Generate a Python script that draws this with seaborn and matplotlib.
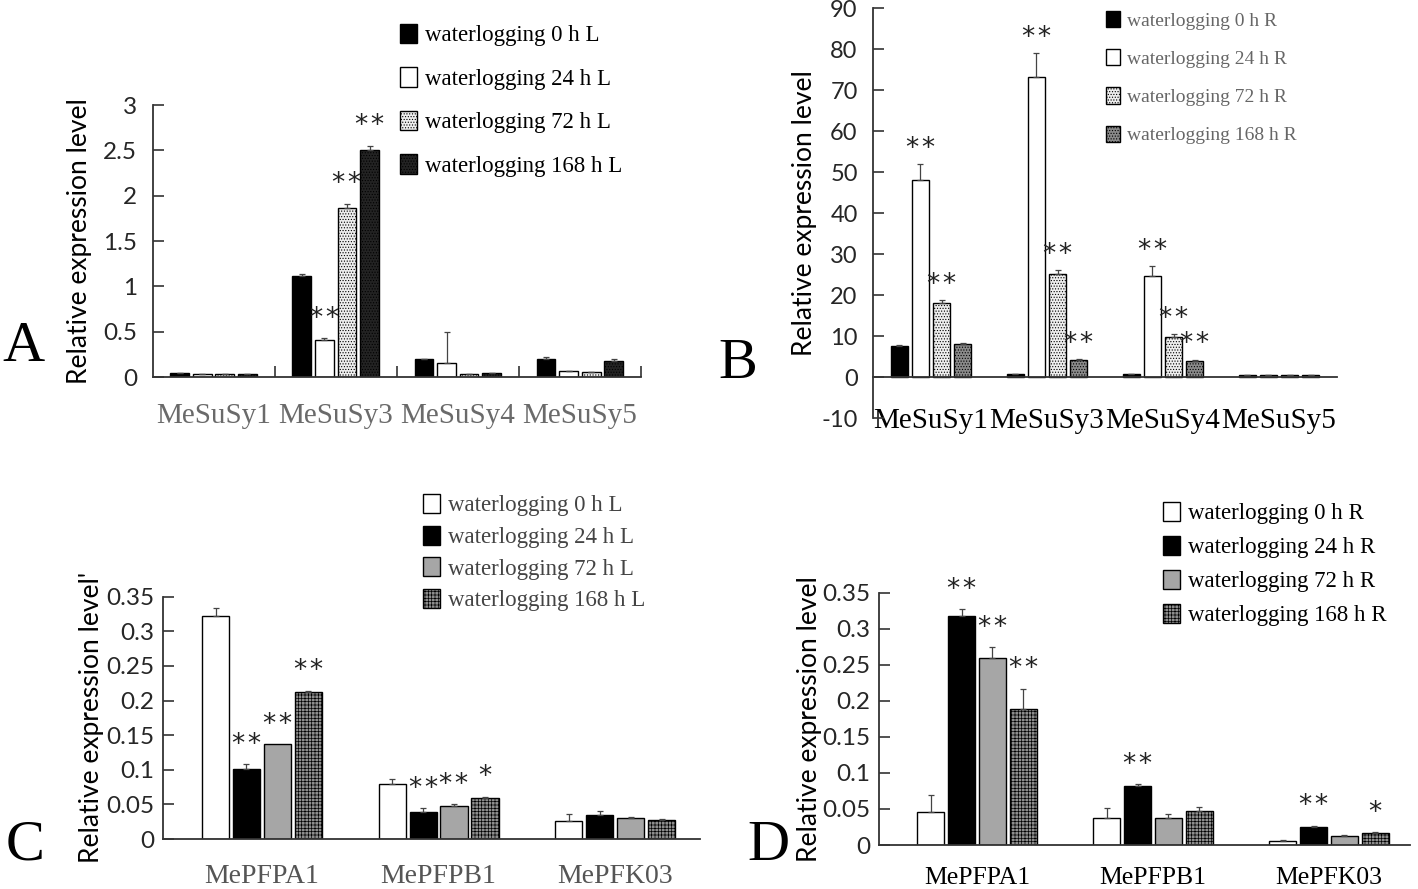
import numpy as np
import pandas as pd
import matplotlib
matplotlib.use("Agg")
import matplotlib.pyplot as plt
import seaborn as sns

# ---------------- data ----------------
genes_susy = ["MeSuSy1", "MeSuSy3", "MeSuSy4", "MeSuSy5"]
genes_pfk = ["MePFPA1", "MePFPB1", "MePFK03"]

times_L = ["waterlogging 0 h L", "waterlogging 24 h L", "waterlogging 72 h L", "waterlogging 168 h L"]
times_R = ["waterlogging 0 h R", "waterlogging 24 h R", "waterlogging 72 h R", "waterlogging 168 h R"]

# Panel A (leaf, SuSy) rows = time points, cols = genes
a_vals = [[0.04, 1.11, 0.198, 0.202],
          [0.03, 0.41, 0.154, 0.066],
          [0.03, 1.86, 0.030, 0.051],
          [0.03, 2.50, 0.044, 0.173]]
a_err = [[0.005, 0.025, 0.005, 0.022],
         [0.003, 0.016, 0.346, 0.004],
         [0.003, 0.050, 0.003, 0.004],
         [0.005, 0.052, 0.004, 0.022]]
a_sig = [["", "", "", ""], ["", "**", "", ""], ["", "**", "", ""], ["", "**", "", ""]]

# Panel B (root, SuSy)
b_vals = [[7.6, 0.8, 0.8, 0.5],
          [48.0, 73.2, 24.8, 0.45],
          [18.0, 25.1, 9.9, 0.45],
          [8.1, 4.2, 4.0, 0.45]]
b_err = [[0.3, 0.1, 0.1, 0.1],
         [4.0, 5.8, 2.4, 0.1],
         [0.8, 1.1, 0.7, 0.1],
         [0.3, 0.3, 0.3, 0.1]]
b_sig = [["", "", "", ""], ["**", "**", "**", ""], ["**", "**", "**", ""], ["", "**", "**", ""]]

# Panel C (leaf, PFK)
c_vals = [[0.322, 0.079, 0.026],
          [0.101, 0.0395, 0.035],
          [0.137, 0.047, 0.031],
          [0.213, 0.059, 0.027]]
c_err = [[0.011, 0.007, 0.010],
         [0.007, 0.005, 0.005],
         [0.000, 0.003, 0.001],
         [0.001, 0.002, 0.002]]
c_sig = [["", "", ""], ["**", "**", ""], ["**", "**", ""], ["**", "*", ""]]

# Panel D (root, PFK)
d_vals = [[0.046, 0.038, 0.006],
          [0.318, 0.082, 0.025],
          [0.260, 0.037, 0.0125],
          [0.189, 0.047, 0.016]]
d_err = [[0.023, 0.014, 0.001],
         [0.009, 0.002, 0.002],
         [0.014, 0.006, 0.0014],
         [0.028, 0.006, 0.0014]]
d_sig = [["", "", ""], ["**", "**", "**"], ["**", "", ""], ["**", "", "*"]]

ticks_susy_L = [0, 0.5, 1, 1.5, 2, 2.5, 3]
ticklabels_susy_L = ["0", "0.5", "1", "1.5", "2", "2.5", "3"]
ticks_susy_R = [-10, 0, 10, 20, 30, 40, 50, 60, 70, 80, 90]
ticklabels_susy_R = ["-10", "0", "10", "20", "30", "40", "50", "60", "70", "80", "90"]
ticks_pfk = [0, 0.05, 0.1, 0.15, 0.2, 0.25, 0.3, 0.35]
ticklabels_pfk = ["0", "0.05", "0.1", "0.15", "0.2", "0.25", "0.3", "0.35"]

# ---------------- style ----------------
sns.set_theme(style="white")
plt.rcParams["font.family"] = ["Lato", "DejaVu Sans"]
plt.rcParams["hatch.linewidth"] = 0.5
SERIF = ["Liberation Serif", "DejaVu Serif"]
SANS = ["Lato", "DejaVu Sans"]

W, H = 1418, 889
fig = plt.figure(figsize=(W / 100, H / 100), dpi=100)


def fig_rect(x0, x1, y_top, y_bot):
    return [x0 / W, 1 - y_bot / H, (x1 - x0) / W, (y_bot - y_top) / H]


def panel(rect, genes, times, vals, errs, sig, styles, ylim, ticks, ticklabels,
          xlim, width, gap, ylabel, label_pad, label_color,
          leg_pos, sizes, leg_color, leg_spacing, ytick_pad,
          sep_ticks=False, zero_axis=False, star_off=14):
    ax = fig.add_axes(rect)
    rows = []
    for ti, t in enumerate(times):
        for gi, g in enumerate(genes):
            rows.append({"gene": g, "time": t, "value": vals[ti][gi]})
    df = pd.DataFrame(rows)
    pal = {t: s[0] for t, s in zip(times, styles)}
    sns.barplot(data=df, x="gene", y="value", hue="time", order=genes,
                hue_order=times, palette=pal, width=width, gap=gap,
                errorbar=None, edgecolor="black", linewidth=1.0,
                saturation=1, legend=False, ax=ax)
    if zero_axis:
        ax.spines["bottom"].set_position(("data", 0))
    bars = list(ax.containers)
    for ti, cont in enumerate(bars):
        face, hatch, hcol = styles[ti]
        for gi, p in enumerate(cont.patches):
            p.set_facecolor(face)
            if hatch:
                p.set_hatch(hatch)
                if hasattr(p, "set_hatchcolor"):
                    p.set_hatchcolor(hcol)
            p.set_zorder(2)
            xc = p.get_x() + p.get_width() / 2
            h = p.get_height()
            e = errs[ti][gi]
            if e > 0:
                ax.errorbar([xc], [h], yerr=[[0], [e]], fmt="none",
                            ecolor="#444444", elinewidth=0.9, capsize=2.5,
                            capthick=0.9, zorder=3)
            s = sig[ti][gi]
            if s:
                ax.annotate("\u200a".join(s), (xc, h + e), xytext=(0, star_off),
                            textcoords="offset points", ha="center",
                            va="center", fontsize=19, color="#222222",
                            family=["DejaVu Sans"])
    ax.set_xlim(*xlim)
    ax.set_ylim(*ylim)
    ax.set_xlabel("")
    ax.set_ylabel(ylabel, fontsize=sizes[3], family=SANS, color="black",
                  labelpad=label_pad)
    ax.set_yticks(ticks)
    ax.set_yticklabels(ticklabels, fontsize=sizes[4], family=SANS)
    ax.tick_params(axis="y", direction="in", length=8, width=1.2,
                   color="#333333", pad=ytick_pad, left=True)
    ax.set_xticks(range(len(genes)))
    ax.set_xticklabels(genes, family=SERIF, color=label_color,
                       fontsize=sizes[1])
    ax.tick_params(axis="x", which="major", length=0, pad=sizes[2])
    for sp in ["top", "right"]:
        ax.spines[sp].set_visible(False)
    for sp in ["left", "bottom"]:
        ax.spines[sp].set_color("#333333")
        ax.spines[sp].set_linewidth(1.3)
    if sep_ticks:
        ax.set_xticks([i + 0.5 for i in range(len(genes))], minor=True)
        ax.tick_params(axis="x", which="minor", direction="in", length=8,
                       width=1.2, color="#333333", bottom=True)
    ax.grid(False)
    ax.legend(handles=bars, labels=times,
              loc="upper left", bbox_to_anchor=(leg_pos[0] / W, 1 - leg_pos[1] / H),
              bbox_transform=fig.transFigure, frameon=False,
              prop={"family": SERIF, "size": sizes[0]},
              labelcolor=leg_color, handlelength=0.72,
              handleheight=0.9, handletextpad=0.35,
              labelspacing=leg_spacing, borderpad=0, borderaxespad=0)
    return ax


# sizes: legend, category labels, category pad, ylabel, ytick labels
# Panel A
st_A = [("#000000", None, None), ("#ffffff", None, None),
        ("#eeeeee", "......", "#9a9a9a"), ("#232323", "......", "#444444")]
panel(fig_rect(152.5, 641, 105, 377), genes_susy, times_L, a_vals, a_err, a_sig,
      st_A, (0, 3), ticks_susy_L, ticklabels_susy_L, (-0.5, 3.5), 0.74, 0.17,
      "Relative expression level", 8, "#6a6a6a",
      (400, 24), (16.5, 21, 19, 19, 17.5), "black", 0.92, 11, sep_ticks=True)

# Panel B
st_B = [("#000000", None, None), ("#ffffff", None, None),
        ("#eeeeee", "......", "#9a9a9a"), ("#8a8a8a", "......", "#4a4a4a")]
panel(fig_rect(873, 1337, 8.3, 418.3), genes_susy, times_R, b_vals, b_err, b_sig,
      st_B, (-10, 90), ticks_susy_R, ticklabels_susy_R, (-0.5, 3.5), 0.73, 0.2,
      "Relative expression level", 3, "black",
      (1106, 11), (14, 21, 22, 19, 17), "#666666", 1.0, 11, zero_axis=True,
      star_off=11)

# Panel C
st_C = [("#ffffff", None, None), ("#000000", None, None),
        ("#a6a6a6", None, None), ("#8e8e8e", "+++++", "#666666")]
panel(fig_rect(163, 700, 596.7, 839), genes_pfk, times_L, c_vals, c_err, c_sig,
      st_C, (0, 0.35), ticks_pfk, ticklabels_pfk, (-0.56, 2.48), 0.7, 0.12,
      "Relative expression level'", 2, "#555555",
      (423, 494), (16.5, 20, 18, 19, 17.5), "#444444", 0.4, 6)

# Panel D
st_D = [("#ffffff", None, None), ("#000000", None, None),
        ("#a6a6a6", None, None), ("#8e8e8e", "+++++", "#666666")]
panel(fig_rect(878.5, 1410, 592.7, 845), genes_pfk, times_R, d_vals, d_err, d_sig,
      st_D, (0, 0.35), ticks_pfk, ticklabels_pfk, (-0.56, 2.46), 0.7, 0.12,
      "Relative expression level", 0, "black",
      (1163, 502), (16.5, 18.5, 16, 19, 17.5), "black", 0.5, 6)

# Panel letters
for letter, (x, y) in zip(["A", "B", "C", "D"], [(23, 347), (738, 364), (25, 846), (768, 846)]):
    fig.text(x / W, 1 - y / H, letter, family=SERIF, fontsize=42,
             ha="center", va="center", color="black")

fig.savefig("out.png", dpi=100, facecolor="white")
